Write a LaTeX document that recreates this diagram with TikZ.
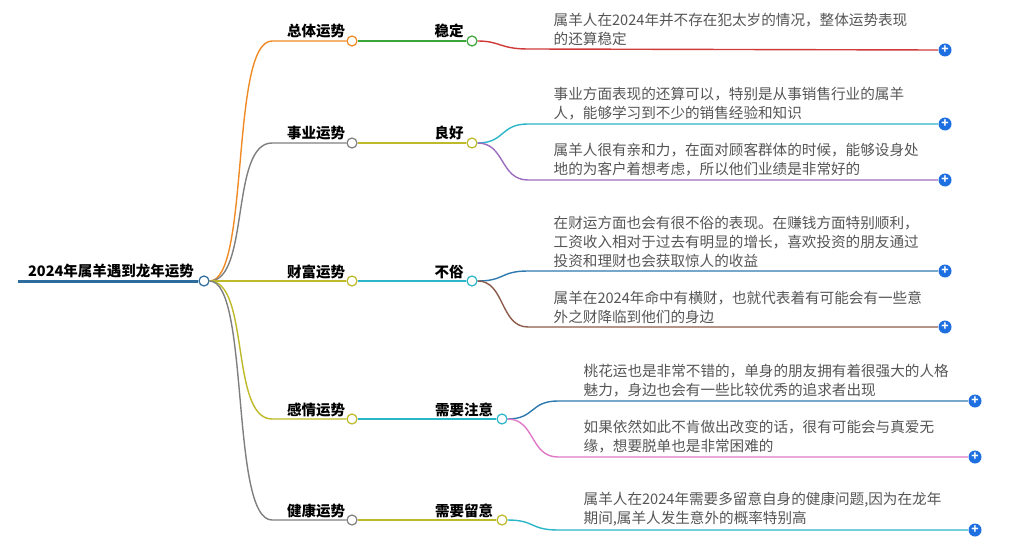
\documentclass[tikz,border=0pt]{standalone}
\usepackage{fontspec}
\setmainfont{Noto Sans CJK SC}
\usetikzlibrary{positioning}
\definecolor{rootc}{HTML}{2E6C9E}
\definecolor{orangec}{HTML}{F08A24}
\definecolor{grayc}{HTML}{7F7F7F}
\definecolor{olivec}{HTML}{BDB928}
\definecolor{greenc}{HTML}{3AA63A}
\definecolor{redc}{HTML}{D03A3A}
\definecolor{tealc}{HTML}{2BB5C8}
\definecolor{purplec}{HTML}{9B6BC0}
\definecolor{bluec}{HTML}{2E7AB0}
\definecolor{brownc}{HTML}{8C5A4A}
\definecolor{pinkc}{HTML}{E07AC8}
\definecolor{plusc}{HTML}{1E6FE0}
\definecolor{txtc}{HTML}{555555}
\tikzset{
    x=1pt,y=-1pt,
    knob/.style={circle,draw,fill=white,line width=1.2pt,inner sep=0pt,minimum size=10pt},
    plus/.style={circle,fill=plusc,inner sep=0pt,minimum size=13pt,text=white,font=\bfseries\fontsize{12}{12}\selectfont},
    topic/.style={font=\bfseries\fontsize{14.5}{14.5}\selectfont,text=black,anchor=base},
    leaf/.style={font=\fontsize{14.6}{19}\selectfont,text=txtc,align=left,anchor=south west,inner sep=0pt}
}
\begin{document}
\begin{tikzpicture}[line width=1.4pt]
\useasboundingbox (0,0) rectangle (1032,548);
% root
\coordinate (r0) at (18,281);
\node[knob,draw=rootc] (r) at (204,281) {};
\draw[rootc,line width=3pt] (r0) -- (r.west);
\node[topic] at (111,276) {2024年属羊遇到龙年运势};

% level one
\node[knob,draw=orangec] (z) at (352,41) {};
\node[knob,draw=grayc] (s) at (352,143) {};
\node[knob,draw=olivec] (c) at (352,281) {};
\node[knob,draw=olivec] (g) at (352,419) {};
\node[knob,draw=grayc] (j) at (352,520) {};
\node[topic] at (316,37) {总体运势};
\node[topic] at (316,139) {事业运势};
\node[topic] at (316,277) {财富运势};
\node[topic] at (316,415) {感情运势};
\node[topic] at (316,516) {健康运势};
\draw[orangec] (r.east) .. controls (250,281) and (230,41) .. (272,41) -- (z.west);
\draw[grayc] (r.east) .. controls (250,281) and (230,143) .. (272,143) -- (s.west);
\draw[olivec] (r.east) -- (c.west);
\draw[olivec] (r.east) .. controls (250,281) and (230,419) .. (272,419) -- (g.west);
\draw[grayc] (r.east) .. controls (250,281) and (230,520) .. (272,520) -- (j.west);

% level two
\node[knob,draw=greenc] (z1) at (472,41) {};
\node[knob,draw=olivec] (s1) at (472,143) {};
\node[knob,draw=tealc] (c1) at (472,281) {};
\node[knob,draw=tealc] (g1) at (502,419) {};
\node[knob,draw=olivec] (j1) at (502,520) {};
\draw[greenc] (z.east) -- (z1.west);
\draw[olivec] (s.east) -- (s1.west);
\draw[tealc] (c.east) -- (c1.west);
\draw[tealc] (g.east) -- (g1.west);
\draw[olivec] (j.east) -- (j1.west);
\node[topic] at (449,37) {稳定};
\node[topic] at (449,139) {良好};
\node[topic] at (449,277) {不俗};
\node[topic] at (464,415) {需要注意};
\node[topic] at (464,516) {需要留意};

% leaves
\node[plus] (p1) at (945,50) {+};
\node[plus] (p2) at (945,124) {+};
\node[plus] (p3) at (945,180) {+};
\node[plus] (p4) at (945,271) {+};
\node[plus] (p5) at (945,327) {+};
\node[plus] (p6) at (975,401) {+};
\node[plus] (p7) at (975,457) {+};
\node[plus] (p8) at (975,530) {+};
\draw[redc] (z1.east) .. controls (500,41) and (500,49) .. (528,49) -- (p1.west);
\draw[tealc] (s1.east) .. controls (505,143) and (500,124) .. (528,124) -- (p2.west);
\draw[purplec] (s1.east) .. controls (505,143) and (500,180) .. (528,180) -- (p3.west);
\draw[bluec] (c1.east) .. controls (505,281) and (500,271) .. (528,271) -- (p4.west);
\draw[brownc] (c1.east) .. controls (505,281) and (500,327) .. (528,327) -- (p5.west);
\draw[bluec] (g1.east) .. controls (535,419) and (530,401) .. (558,401) -- (p6.west);
\draw[pinkc] (g1.east) .. controls (535,419) and (530,457) .. (558,457) -- (p7.west);
\draw[tealc] (j1.east) .. controls (535,520) and (530,530) .. (558,530) -- (p8.west);
\node[leaf] at (553,46) {属羊人在2024年并不存在犯太岁的情况，整体运势表现\\的还算稳定};
\node[leaf] at (553,121) {事业方面表现的还算可以，特别是从事销售行业的属羊\\人，能够学习到不少的销售经验和知识};
\node[leaf] at (553,177) {属羊人很有亲和力，在面对顾客群体的时候，能够设身处\\地的为客户着想考虑，所以他们业绩是非常好的};
\node[leaf] at (553,268) {在财运方面也会有很不俗的表现。在赚钱方面特别顺利，\\工资收入相对于过去有明显的增长，喜欢投资的朋友通过\\投资和理财也会获取惊人的收益};
\node[leaf] at (553,324) {属羊在2024年命中有横财，也就代表着有可能会有一些意\\外之财降临到他们的身边};
\node[leaf] at (583,398) {桃花运也是非常不错的，单身的朋友拥有着很强大的人格\\魅力，身边也会有一些比较优秀的追求者出现};
\node[leaf] at (583,454) {如果依然如此不肯做出改变的话，很有可能会与真爱无\\缘，想要脱单也是非常困难的};
\node[leaf] at (583,527) {属羊人在2024年需要多留意自身的健康问题,因为在龙年\\期间,属羊人发生意外的概率特别高};
\end{tikzpicture}
\end{document}
